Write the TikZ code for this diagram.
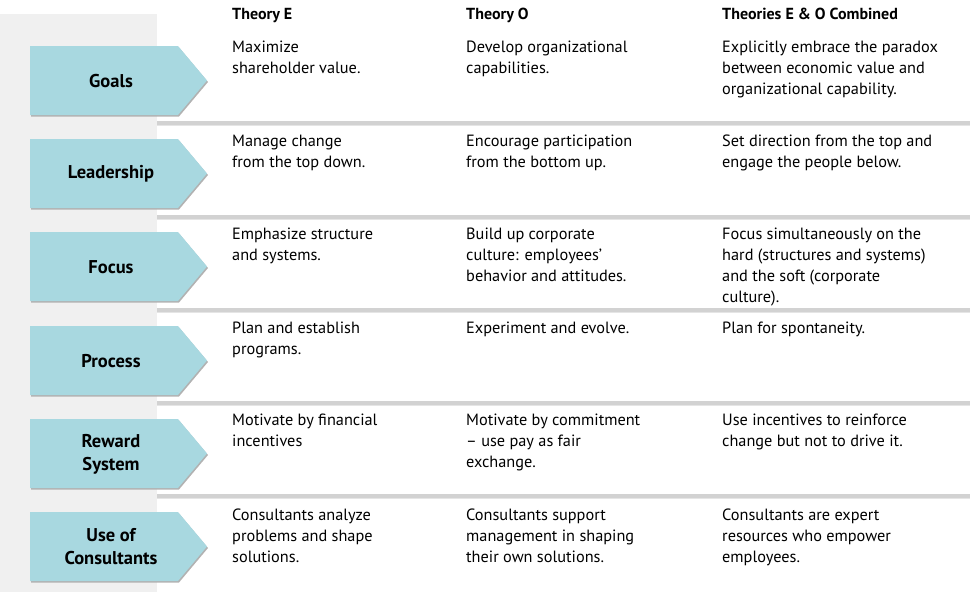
\documentclass[tikz,border=0pt]{standalone}
\usepackage{fontspec}
\setmainfont{PT Sans}
\begin{document}
\begin{tikzpicture}[x=1pt,y=-1pt,
 lbl/.style={font=\bfseries\fontsize{18.5}{23}\selectfont,align=center},
 cell/.style={anchor=north west,inner sep=0pt,align=left,font=\fontsize{16.3}{21}\selectfont},
 head/.style={anchor=north west,inner sep=0pt,font=\bfseries\fontsize{16}{20}\selectfont}]
\definecolor{arrowblue}{HTML}{A8D8E0}
\definecolor{band}{HTML}{F0F0F0}
\definecolor{sep}{HTML}{D2D2D2}
\useasboundingbox (0,0) rectangle (980,592);
\fill[band] (0,14) rectangle (157,592);
\foreach \y in {123,217,310,403,496}{
 \fill[sep] (157,\y-2) rectangle (970,\y+1.5);
 \fill[black!10] (157,\y+1.5) rectangle (970,\y+3);}
\foreach \t/\l [count=\i from 0] in {46/Goals,139/Leadership,232/Focus,326/Process,419/{Reward\\System},512/{Use of\\Consultants}}{
 \fill[black!30] (31,\t+1.5) -- (179,\t+1.5) -- (208,\t+36) -- (179,\t+70.5) -- (31,\t+70.5) -- cycle;
 \fill[arrowblue] (30,\t) -- (178,\t) -- (207,\t+34.5) -- (178,\t+69) -- (30,\t+69) -- cycle;
 \node[lbl] (a\i) at (111,\t+35) {\l};}
\node[head] (h1) at (232,8) {Theory E};
\node[head] (h2) at (466,8) {Theory O};
\node[head] (h3) at (722,8) {Theories E \& O Combined};
\node[cell] (c11) at (232,41) {Maximize\\shareholder value.};
\node[cell] (c12) at (466,41) {Develop organizational\\capabilities.};
\node[cell] (c13) at (722,41) {Explicitly embrace the paradox\\between economic value and\\organizational capability.};
\node[cell] (c21) at (232,135) {Manage change\\from the top down.};
\node[cell] (c22) at (466,135) {Encourage participation\\from the bottom up.};
\node[cell] (c23) at (722,135) {Set direction from the top and\\engage the people below.};
\node[cell] (c31) at (232,228) {Emphasize structure\\and systems.};
\node[cell] (c32) at (466,228) {Build up corporate\\culture: employees'\\behavior and attitudes.};
\node[cell] (c33) at (722,228) {Focus simultaneously on the\\hard (structures and systems)\\and the soft (corporate\\culture).};
\node[cell] (c41) at (232,322) {Plan and establish\\programs.};
\node[cell] (c42) at (466,322) {Experiment and evolve.};
\node[cell] (c43) at (722,322) {Plan for spontaneity.};
\node[cell] (c51) at (232,414) {Motivate by financial\\incentives};
\node[cell] (c52) at (466,414) {Motivate by commitment\\– use pay as fair\\exchange.};
\node[cell] (c53) at (722,414) {Use incentives to reinforce\\change but not to drive it.};
\node[cell] (c61) at (232,509) {Consultants analyze\\problems and shape\\solutions.};
\node[cell] (c62) at (466,509) {Consultants support\\management in shaping\\their own solutions.};
\node[cell] (c63) at (722,509) {Consultants are expert\\resources who empower\\employees.};
\end{tikzpicture}
\end{document}
